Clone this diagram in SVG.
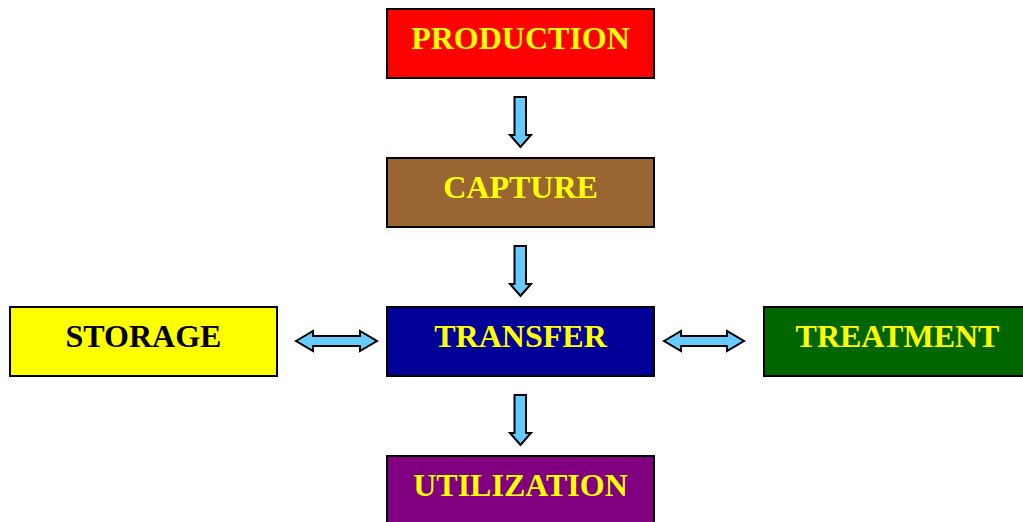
<svg xmlns="http://www.w3.org/2000/svg" width="1023" height="522" viewBox="0 0 1023 522">
  <style>
    .box { stroke: #000; stroke-width: 2; }
    .lbl { font-family: "Liberation Serif", "Times New Roman", serif; font-weight: bold; font-size: 32px; text-anchor: middle; fill: #FFFF00; }
    .dark { fill: #000; }
    .arrow { fill: #66CCFF; stroke: #000; stroke-width: 2; stroke-linejoin: miter; }
  </style>
  <rect width="1023" height="522" fill="#fff"/>

  <g id="production">
    <rect class="box" x="387" y="9" width="267" height="69" fill="#FF0000"/>
    <text class="lbl" x="520.5" y="49">PRODUCTION</text>
  </g>
  <g id="capture">
    <rect class="box" x="387" y="158" width="267" height="69" fill="#996633"/>
    <text class="lbl" x="520.5" y="198">CAPTURE</text>
  </g>
  <g id="transfer">
    <rect class="box" x="387" y="307" width="267" height="69" fill="#000099"/>
    <text class="lbl" x="520.5" y="347">TRANSFER</text>
  </g>
  <g id="storage">
    <rect class="box" x="10" y="307" width="267" height="69" fill="#FFFF00"/>
    <text class="lbl dark" x="143.5" y="347">STORAGE</text>
  </g>
  <g id="treatment">
    <rect class="box" x="764" y="307" width="267" height="69" fill="#006600"/>
    <text class="lbl" x="897.5" y="347">TREATMENT</text>
  </g>
  <g id="utilization">
    <rect class="box" x="387" y="456" width="267" height="69" fill="#800080"/>
    <text class="lbl" x="520.5" y="496">UTILIZATION</text>
  </g>

  <g id="connectors">
    <path class="arrow" d="M514.5,97 H526 V135 H531 L520.5,147 L510,135 H514.5 Z"/>
    <path class="arrow" d="M514.5,246 H526 V284 H531 L520.5,296 L510,284 H514.5 Z"/>
    <path class="arrow" d="M514.5,395 H526 V433 H531 L520.5,445 L510,433 H514.5 Z"/>
    <path class="arrow" d="M296,341 L313,331 V336 H360 V331 L377,341 L360,351 V346 H313 V351 Z"/>
    <path class="arrow" d="M664,341 L681,331 V336 H727 V331 L744,341 L727,351 V346 H681 V351 Z"/>
  </g>
</svg>
